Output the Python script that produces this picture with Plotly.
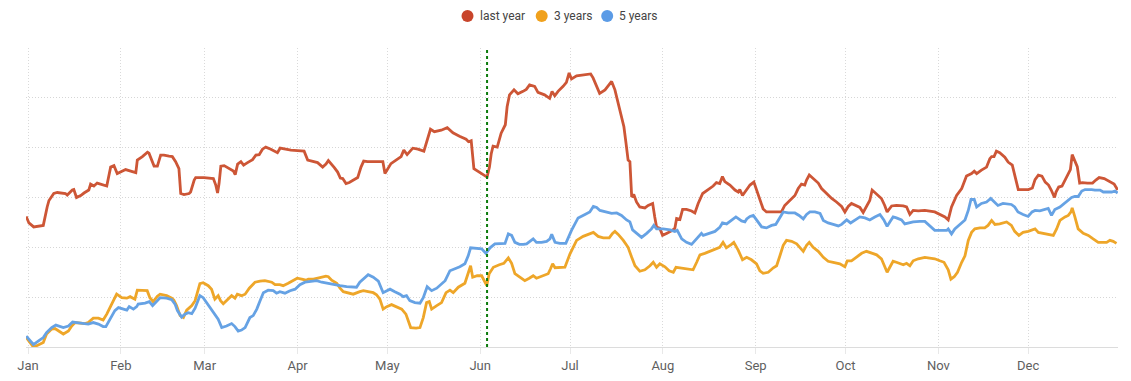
import pandas as pd
import plotly.graph_objects as go

# Day offsets from 1 Jan (fractional days allowed) and the index values
YEAR_START = "2023-01-01"
MONTHS = ["Jan", "Feb", "Mar", "Apr", "May", "Jun", "Jul", "Aug", "Sep", "Oct", "Nov", "Dec"]
MARKER_DAY = 153.3  # the green dotted "today" marker (early June)

last_year = [
    (-0.6, 26.2), (0.3, 24.9), (1.9, 24.1), (3.6, 24.3), (5.1, 24.4), (6.4, 28.1), (7.0, 29.4), (8.6, 30.8),
    (9.8, 31.0), (12.5, 30.8), (13.1, 30.5), (14.8, 31.5), (15.3, 31.6), (16.2, 30.0), (17.6, 30.4), (18.7, 30.9),
    (20.3, 31.5), (20.9, 32.7), (22.0, 32.3), (23.1, 32.9), (25.4, 32.5), (26.3, 32.3), (27.6, 36.1), (28.7, 36.4),
    (29.8, 34.8), (30.9, 35.1), (32.6, 35.6), (34.3, 35.3), (36.0, 35.0), (36.5, 37.5), (38.2, 38.2), (39.9, 39.1),
    (40.4, 38.9), (42.1, 36.3), (43.2, 36.3), (44.3, 38.5), (45.4, 38.5), (47.1, 38.3), (48.2, 38.2), (49.3, 37.2),
    (50.4, 35.8), (51.0, 30.8), (52.1, 30.6), (53.8, 30.8), (54.3, 31.1), (55.5, 33.5), (56.0, 34.0), (58.8, 34.0),
    (61.9, 33.8), (62.7, 32.5), (63.3, 30.9), (63.8, 32.8), (64.4, 36.3), (65.5, 36.4), (67.2, 35.8), (68.6, 35.3),
    (69.2, 34.6), (70.0, 36.7), (71.1, 37.2), (72.0, 36.5), (73.3, 37.0), (75.0, 37.6), (76.1, 38.5), (77.2, 38.6),
    (78.3, 39.7), (79.4, 40.1), (81.1, 39.7), (82.8, 39.2), (83.3, 39.0), (84.2, 39.9), (85.6, 39.7), (87.8, 39.5),
    (90.0, 39.4), (92.2, 39.3), (93.4, 37.5), (95.0, 37.2), (96.7, 37.0), (98.4, 36.1), (99.5, 36.7), (100.3, 37.4),
    (101.2, 36.8), (102.3, 36.0), (103.4, 35.1), (104.3, 33.9), (105.1, 33.8), (106.2, 32.8), (107.3, 33.0),
    (108.8, 33.6), (110.1, 34.0), (111.2, 36.1), (112.1, 37.3), (113.4, 37.2), (115.1, 37.2), (118.5, 37.2),
    (119.2, 34.8), (120.1, 35.8), (121.2, 36.8), (122.9, 37.5), (124.6, 38.2), (125.5, 39.5), (126.6, 38.6),
    (128.5, 39.9), (130.2, 39.7), (132.2, 39.3), (133.5, 42.2), (134.4, 43.7), (135.7, 43.2), (138.0, 43.5),
    (140.0, 44.0), (141.9, 43.0), (144.1, 42.3), (146.3, 41.7), (147.1, 41.2), (148.0, 41.4), (148.9, 35.8),
    (150.2, 35.3), (151.9, 34.8), (153.3, 34.1), (154.1, 36.1), (154.7, 38.8), (155.3, 40.3), (156.7, 40.1),
    (158.0, 42.9), (159.4, 44.6), (160.0, 48.2), (160.8, 50.6), (162.3, 51.6), (163.6, 50.8), (165.3, 51.3),
    (166.4, 51.7), (167.5, 52.6), (169.2, 52.3), (170.3, 51.1), (172.5, 50.6), (174.2, 49.9), (175.0, 51.3),
    (175.9, 50.4), (177.0, 51.3), (178.7, 52.3), (179.8, 53.1), (180.7, 55.0), (181.5, 53.8), (183.2, 54.4),
    (185.4, 54.6), (187.9, 54.8), (188.7, 54.0), (189.6, 52.6), (190.9, 50.9), (192.7, 51.6), (194.9, 53.3),
    (196.0, 51.6), (197.1, 48.9), (198.2, 45.9), (199.0, 44.2), (199.7, 40.9), (200.4, 37.5), (201.0, 37.2),
    (201.6, 30.1), (202.3, 30.6), (203.2, 29.1), (204.3, 28.1), (206.0, 27.9), (207.1, 28.4), (208.6, 28.8),
    (209.3, 26.1), (209.9, 24.1), (211.0, 23.8), (211.9, 22.4), (213.2, 22.8), (214.9, 23.3), (216.0, 23.8),
    (216.6, 25.8), (217.7, 25.6), (218.6, 27.6), (219.9, 27.6), (221.6, 27.3), (222.7, 26.9), (223.8, 28.8),
    (225.3, 30.8), (227.2, 31.6), (228.8, 32.3), (229.9, 33.0), (231.0, 32.8), (231.9, 34.2), (232.7, 33.2),
    (234.4, 32.5), (236.1, 31.5), (237.2, 31.1), (237.7, 31.6), (238.6, 30.4), (239.4, 31.1), (241.1, 32.5),
    (242.4, 33.1), (243.1, 31.8), (244.4, 29.4), (245.5, 27.7), (246.6, 27.1), (248.9, 27.1), (251.6, 27.1),
    (252.7, 28.4), (254.4, 29.4), (256.1, 30.4), (257.2, 31.8), (258.3, 32.7), (259.4, 32.5), (260.0, 33.5),
    (260.9, 34.5), (262.2, 33.8), (263.9, 32.9), (265.0, 31.8), (266.7, 30.8), (268.4, 29.8), (270.0, 29.1),
    (271.7, 28.2), (272.8, 27.1), (273.9, 28.2), (275.0, 28.8), (276.7, 28.3), (277.8, 28.0), (278.9, 27.0),
    (280.0, 28.2), (281.1, 29.4), (281.9, 31.5), (283.4, 30.6), (284.5, 30.0), (285.0, 29.8), (286.1, 28.4),
    (286.9, 27.1), (288.4, 28.3), (290.0, 28.4), (292.3, 28.3), (293.4, 28.1), (294.5, 26.6), (295.6, 27.4),
    (297.3, 27.3), (299.5, 27.4), (302.8, 27.1), (304.5, 26.6), (306.2, 26.1), (307.3, 25.5), (308.4, 28.1),
    (310.1, 30.4), (311.8, 31.8), (313.4, 34.3), (315.1, 34.8), (316.0, 35.3), (316.8, 34.8), (318.4, 35.5),
    (320.1, 36.1), (321.2, 37.8), (321.8, 38.2), (322.6, 38.2), (323.4, 39.3), (324.5, 39.0), (326.2, 38.1),
    (327.3, 37.1), (328.7, 36.5), (329.8, 33.8), (330.7, 31.6), (331.8, 31.6), (334.1, 31.6), (335.4, 31.9),
    (336.3, 33.6), (337.4, 34.5), (338.6, 34.3), (339.7, 33.1), (340.8, 32.5), (341.7, 31.5), (342.8, 30.0),
    (343.3, 31.1), (344.2, 32.1), (345.3, 32.3), (346.4, 33.5), (347.6, 34.8), (348.1, 35.6), (348.7, 38.6),
    (349.6, 37.5), (350.4, 36.2), (351.2, 32.9), (352.1, 33.0), (353.8, 32.9), (355.5, 32.9), (356.6, 33.5),
    (357.7, 34.0), (359.4, 33.8), (361.0, 33.3), (362.7, 32.7), (363.9, 31.5),
]

three_years = [
    (-0.6, 1.9), (1.8, 0.0), (3.4, 0.4), (5.1, 0.9), (6.2, 2.6), (7.9, 3.6), (9.0, 3.7), (10.7, 3.1), (11.8, 2.6),
    (13.5, 3.2), (14.6, 4.2), (15.7, 4.9), (19.0, 4.7), (20.1, 4.9), (21.8, 5.8), (23.5, 5.8), (25.1, 5.4),
    (26.3, 6.6), (27.9, 8.6), (29.6, 10.6), (31.3, 9.9), (33.0, 9.8), (34.1, 10.1), (35.7, 9.6), (36.5, 11.4),
    (38.3, 11.4), (39.8, 11.3), (40.7, 9.9), (41.8, 9.1), (43.2, 10.2), (44.1, 10.6), (46.3, 10.3), (48.0, 9.8),
    (48.7, 9.4), (49.6, 8.3), (50.8, 6.3), (51.9, 5.9), (53.0, 7.4), (54.7, 8.3), (55.8, 9.3), (57.4, 12.7),
    (58.5, 12.9), (60.2, 12.3), (61.3, 11.6), (62.4, 9.6), (63.5, 10.3), (64.3, 9.3), (65.2, 8.7), (66.3, 9.4),
    (68.0, 10.3), (69.1, 9.8), (69.9, 10.6), (71.3, 10.3), (72.5, 10.6), (73.9, 11.8), (75.8, 13.0), (77.5, 13.2),
    (79.1, 13.3), (81.4, 13.0), (82.5, 12.5), (84.1, 12.5), (85.2, 12.3), (86.9, 12.8), (88.6, 13.3), (89.9, 13.8),
    (91.4, 13.6), (92.8, 13.4), (93.6, 13.6), (95.3, 13.6), (97.5, 13.9), (99.5, 14.2), (100.3, 14.1),
    (101.4, 13.4), (103.1, 12.8), (104.2, 11.8), (105.3, 11.1), (107.0, 10.8), (108.6, 10.6), (110.8, 11.1),
    (112.0, 11.3), (113.6, 11.1), (115.3, 10.9), (116.4, 10.5), (117.5, 9.6), (118.6, 7.6), (119.8, 8.1),
    (121.4, 8.5), (123.1, 8.1), (124.8, 7.6), (126.2, 6.6), (127.0, 5.2), (127.8, 3.9), (129.6, 3.8), (130.9, 3.9),
    (132.0, 5.9), (133.1, 8.9), (134.0, 9.1), (134.8, 7.6), (136.5, 8.3), (138.1, 8.9), (139.6, 10.9),
    (140.9, 11.4), (142.0, 10.9), (143.7, 12.0), (145.9, 12.8), (147.0, 14.7), (147.8, 16.3), (148.5, 14.0),
    (150.0, 14.3), (151.5, 14.3), (152.3, 13.3), (153.2, 12.3), (154.0, 14.7), (155.4, 16.0), (157.4, 16.5),
    (158.9, 16.8), (160.4, 17.9), (161.5, 16.8), (162.6, 14.7), (164.3, 14.0), (165.9, 13.3), (167.4, 13.8),
    (168.7, 14.3), (169.8, 13.8), (172.1, 14.3), (173.7, 14.7), (174.5, 15.7), (175.2, 16.7), (176.0, 15.9),
    (177.6, 16.0), (179.3, 16.0), (181.0, 18.7), (183.2, 21.4), (185.4, 22.2), (188.2, 22.8), (188.8, 23.0),
    (190.4, 22.2), (192.1, 21.9), (194.1, 21.9), (195.2, 22.8), (196.0, 23.2), (197.1, 22.6), (198.8, 21.4),
    (200.4, 20.0), (201.6, 18.0), (202.7, 16.3), (204.3, 15.2), (206.0, 15.5), (207.7, 16.3), (208.8, 17.0),
    (209.9, 16.0), (211.0, 16.7), (212.7, 16.1), (214.1, 15.3), (215.5, 15.0), (216.4, 16.0), (217.7, 15.9),
    (219.9, 15.7), (222.1, 15.5), (223.3, 17.0), (224.4, 18.5), (226.0, 18.8), (227.7, 19.2), (229.9, 19.7),
    (231.0, 20.0), (232.1, 21.0), (233.2, 19.9), (234.9, 20.6), (235.7, 21.0), (237.2, 19.4), (238.6, 17.5),
    (240.0, 18.0), (241.6, 17.5), (243.3, 16.7), (244.4, 15.3), (245.5, 14.8), (247.2, 15.0), (248.9, 15.9),
    (250.0, 16.3), (251.1, 18.3), (252.2, 20.4), (253.3, 21.4), (255.0, 21.2), (256.7, 20.7), (257.8, 19.9),
    (258.9, 19.2), (260.0, 20.4), (260.9, 21.0), (262.2, 20.0), (263.9, 19.2), (265.6, 18.0), (267.2, 17.2),
    (268.9, 17.0), (271.1, 16.7), (272.8, 16.1), (273.6, 17.3), (275.0, 17.3), (276.7, 18.1), (278.4, 18.8),
    (280.0, 19.2), (281.7, 18.8), (283.4, 18.5), (285.0, 17.7), (286.1, 16.3), (286.9, 15.0), (287.8, 16.0),
    (288.9, 17.2), (290.0, 17.0), (292.3, 16.5), (293.4, 16.8), (294.5, 16.3), (295.6, 17.3), (297.3, 17.7),
    (299.5, 18.0), (302.8, 17.7), (304.5, 17.3), (305.9, 17.0), (307.3, 15.5), (308.2, 13.6), (309.3, 14.1),
    (310.4, 15.0), (311.8, 17.0), (312.9, 18.3), (314.0, 21.4), (315.1, 23.0), (316.2, 23.7), (317.9, 23.9),
    (319.5, 23.9), (320.6, 24.4), (321.8, 25.4), (322.9, 24.6), (324.5, 24.7), (326.8, 25.1), (328.4, 24.4),
    (329.5, 23.2), (330.9, 22.4), (332.3, 23.0), (334.0, 23.2), (335.1, 23.4), (336.3, 23.7), (337.4, 23.0),
    (339.0, 22.8), (340.7, 22.6), (342.4, 22.4), (343.5, 23.7), (344.6, 25.4), (346.3, 26.1), (347.4, 26.4),
    (348.3, 27.1), (348.7, 27.9), (349.6, 26.1), (350.7, 23.7), (352.4, 22.8), (354.1, 22.4), (355.7, 21.7),
    (357.4, 21.0), (359.1, 21.0), (360.2, 21.0), (361.3, 21.4), (362.4, 21.2), (363.5, 20.8),
]

five_years = [
    (-0.6, 2.2), (1.8, 0.5), (3.4, 1.2), (5.1, 1.9), (6.2, 2.9), (7.9, 3.9), (9.3, 4.4), (10.7, 4.1), (11.8, 3.9),
    (13.5, 4.2), (14.9, 5.0), (16.3, 4.9), (18.5, 4.7), (20.1, 4.6), (21.8, 4.9), (23.5, 4.6), (25.1, 4.1),
    (26.0, 4.1), (27.4, 5.6), (29.0, 7.3), (30.2, 7.9), (31.8, 7.6), (33.0, 7.4), (33.8, 8.1), (35.2, 7.6),
    (36.3, 8.1), (36.8, 8.6), (39.1, 8.8), (40.5, 9.1), (41.6, 8.3), (43.0, 9.3), (44.1, 9.9), (46.3, 9.8),
    (48.0, 9.5), (49.1, 8.6), (49.9, 7.3), (51.3, 6.0), (52.4, 6.6), (53.5, 6.9), (54.7, 6.7), (55.8, 7.8),
    (57.4, 10.3), (58.5, 9.9), (59.7, 8.9), (60.8, 7.8), (61.9, 6.9), (63.5, 5.6), (64.7, 3.9), (66.3, 4.2),
    (68.0, 4.7), (69.1, 4.1), (70.2, 3.2), (71.3, 3.4), (72.5, 3.9), (74.1, 5.9), (75.2, 6.3), (76.4, 7.6),
    (77.5, 9.3), (78.6, 10.9), (80.2, 11.4), (81.9, 11.3), (83.0, 10.8), (84.1, 11.1), (85.8, 10.8), (87.5, 11.3),
    (89.2, 11.6), (90.8, 12.5), (92.5, 13.0), (94.7, 13.2), (96.4, 13.3), (98.1, 13.0), (99.7, 12.8),
    (101.9, 12.5), (104.2, 12.3), (106.4, 12.1), (108.6, 12.0), (109.7, 12.0), (110.8, 13.0), (112.5, 14.0),
    (113.6, 14.5), (115.3, 14.0), (117.0, 13.2), (118.6, 10.9), (119.8, 11.3), (120.9, 11.6), (122.5, 11.1),
    (124.2, 10.6), (125.3, 10.1), (126.4, 10.3), (127.5, 9.3), (129.2, 8.9), (130.9, 8.8), (132.0, 9.9),
    (133.3, 12.1), (134.8, 11.3), (136.5, 11.8), (138.1, 12.6), (139.3, 13.3), (140.9, 15.3), (142.6, 15.7),
    (144.2, 16.1), (145.9, 16.7), (147.0, 18.3), (147.8, 19.9), (149.8, 19.8), (151.5, 19.7), (152.9, 18.8),
    (154.3, 19.9), (155.9, 20.7), (157.6, 20.8), (159.3, 20.8), (160.4, 22.7), (161.5, 22.4), (162.6, 21.0),
    (164.1, 20.6), (165.4, 20.6), (166.5, 20.7), (167.6, 21.2), (168.7, 21.7), (169.8, 21.0), (171.5, 21.0),
    (173.2, 21.2), (174.3, 21.7), (174.9, 22.6), (176.0, 21.0), (177.6, 20.8), (179.6, 20.8), (181.5, 23.4),
    (183.7, 25.9), (186.0, 26.6), (187.6, 27.1), (188.8, 28.2), (189.9, 28.0), (191.0, 27.4), (193.2, 27.0),
    (194.9, 26.8), (196.6, 26.9), (198.2, 26.4), (199.9, 25.5), (201.0, 25.1), (201.9, 23.5), (203.2, 22.8),
    (204.9, 22.0), (206.6, 22.8), (208.2, 23.7), (209.0, 24.4), (209.9, 23.7), (212.1, 23.7), (214.4, 23.5),
    (216.0, 23.2), (216.8, 23.4), (218.3, 21.7), (219.9, 21.0), (221.6, 20.6), (223.3, 21.7), (224.9, 22.8),
    (225.5, 22.4), (227.7, 22.9), (229.4, 23.2), (231.0, 24.0), (231.9, 24.9), (233.3, 24.7), (234.9, 25.4),
    (236.4, 26.1), (238.3, 25.3), (239.4, 25.1), (240.0, 25.7), (241.1, 26.2), (242.2, 26.4), (243.3, 25.4),
    (245.0, 24.1), (246.6, 23.9), (248.3, 24.4), (249.7, 24.6), (251.1, 26.1), (252.2, 27.1), (253.9, 26.9),
    (256.1, 26.9), (257.5, 26.4), (258.9, 25.7), (260.0, 26.6), (261.1, 27.1), (262.8, 27.1), (264.5, 26.8),
    (265.6, 25.4), (267.2, 24.9), (268.9, 24.6), (270.6, 24.3), (271.7, 24.6), (273.4, 25.5), (274.7, 24.9),
    (276.1, 25.5), (277.8, 26.1), (279.5, 25.9), (281.1, 25.5), (282.8, 26.1), (284.5, 26.6), (285.8, 25.5),
    (286.9, 24.2), (287.8, 25.1), (288.9, 26.1), (290.0, 25.9), (291.7, 25.5), (292.8, 24.7), (293.9, 24.9),
    (295.6, 25.1), (297.8, 25.2), (299.5, 25.2), (302.8, 23.4), (305.1, 23.4), (306.8, 23.4), (307.3, 23.7),
    (308.4, 22.7), (309.5, 23.7), (311.2, 24.7), (312.9, 25.5), (314.0, 27.4), (314.9, 29.6), (316.0, 29.6),
    (316.8, 28.1), (318.4, 28.8), (320.1, 29.1), (321.5, 29.8), (322.6, 29.1), (323.9, 28.4), (325.6, 28.8),
    (327.3, 28.6), (328.4, 28.6), (329.5, 28.1), (330.6, 27.1), (332.3, 26.6), (334.0, 26.2), (335.3, 27.1),
    (336.3, 27.4), (337.9, 27.3), (339.6, 27.6), (340.7, 27.8), (341.8, 26.4), (342.9, 27.6), (344.6, 28.1),
    (346.3, 28.9), (347.4, 29.6), (348.5, 30.0), (349.6, 30.2), (350.7, 30.2), (351.9, 31.3), (353.0, 31.6),
    (355.2, 31.6), (356.3, 31.5), (358.0, 31.5), (359.1, 31.1), (361.9, 31.1), (363.0, 31.3), (363.9, 30.9),
]

SERIES_NAMES = ["last year", "3 years", "5 years"]
SERIES_DATA = [last_year, three_years, five_years]
LINE_COLORS = ["#cd5636", "#eea629", "#66a2e4"]
DOT_COLORS = ["#c8452b", "#f0a11d", "#5b9be6"]

base = pd.Timestamp(YEAR_START)


def to_dates(days):
    return base + pd.to_timedelta(days, unit="D")


# figure is offset by the page's 8px body margin, so its size is reduced accordingly
FIG_W, FIG_H = 1123, 373
M_L, M_R, M_T, M_B = 18, 13, 40, 34
PLOT_W = FIG_W - M_L - M_R
PLOT_H = FIG_H - M_T - M_B

fig = go.Figure()
for name, pts, color in zip(SERIES_NAMES, SERIES_DATA, LINE_COLORS):
    fig.add_trace(go.Scatter(
        x=to_dates([p[0] for p in pts]), y=[p[1] for p in pts], mode="lines", name=name,
        showlegend=False, line=dict(color=color, width=2.8), hoverinfo="skip",
    ))

marker_x = to_dates([MARKER_DAY])[0]
fig.add_shape(type="line", xref="x", yref="paper", x0=marker_x, x1=marker_x, y0=0, y1=1,
              line=dict(color="#0b7a0b", width=2, dash="dot"), layer="above")

# legend drawn by hand: small filled circle + label, centred above the plot
LEGEND_DOT_PX = [459.5, 533.7, 599.2]   # dot centres, px from figure left
LEGEND_Y_PX = 8                          # px from figure top
R = 6
for (name, color, cx) in zip(SERIES_NAMES, DOT_COLORS, LEGEND_DOT_PX):
    px = (cx - M_L) / PLOT_W
    py = (FIG_H - M_B - LEGEND_Y_PX) / PLOT_H
    fig.add_shape(type="circle", xref="paper", yref="paper",
                  x0=px - R / PLOT_W, x1=px + R / PLOT_W, y0=py - R / PLOT_H, y1=py + R / PLOT_H,
                  fillcolor=color, line=dict(width=0))
    fig.add_annotation(text=name, xref="paper", yref="paper", x=px + (R + 4) / PLOT_W, y=py,
                       xanchor="left", yanchor="middle", showarrow=False,
                       font=dict(size=12, color="#444444", family="Roboto, Arial, sans-serif"))

month_ticks = pd.date_range(YEAR_START, periods=12, freq="MS")

fig.update_layout(
    width=FIG_W, height=FIG_H, autosize=False,
    margin=dict(l=M_L, r=M_R, t=M_T, b=M_B),
    plot_bgcolor="white", paper_bgcolor="white",
    font=dict(family="Roboto, Arial, sans-serif", color="#555555"),
    showlegend=False,
    xaxis=dict(
        type="date",
        range=[to_dates([-0.67])[0], to_dates([364.0])[0]],
        tickvals=month_ticks, ticktext=MONTHS,
        showgrid=True, gridcolor="#dadada", griddash="1px,2px", gridwidth=1,
        ticks="outside", ticklen=6, tickcolor="#e8e8e8", ticklabelstandoff=0,
        showline=True, linecolor="#dcdcdc", linewidth=1,
        tickfont=dict(size=13, color="#5f5f5f"),
        zeroline=False, automargin=False,
    ),
    yaxis=dict(
        range=[0, 60], dtick=10, showticklabels=False,
        showgrid=True, gridcolor="#d6d6d6", griddash="1px,2px", gridwidth=1,
        zeroline=False, showline=False, ticks="", automargin=False,
    ),
)

fig.write_html("out.html")
